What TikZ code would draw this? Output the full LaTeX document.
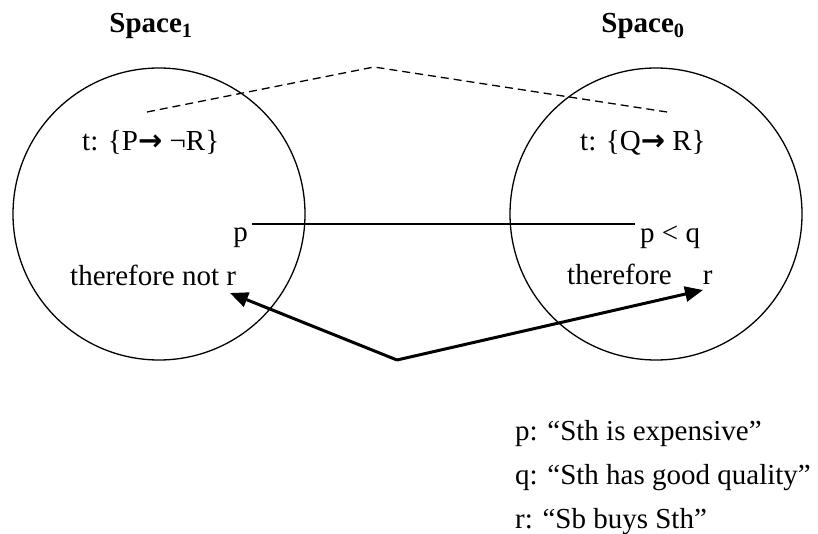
\documentclass[tikz,border=0pt]{standalone}
\usepackage{fontspec}
\setmainfont{Liberation Serif}
\newfontfamily\symfont{DejaVu Sans}
\usetikzlibrary{arrows.meta}
\begin{document}
\begin{tikzpicture}[x=1pt,y=-1pt,
  txt/.style={inner sep=0pt, font=\fontsize{29}{34}\selectfont},
  ttl/.style={inner sep=0pt, font=\fontsize{29}{34}\selectfont\bfseries},
  space/.style={circle, draw, line width=1.3pt, minimum size=292pt, inner sep=0pt},
  dashline/.style={line width=1.3pt, dash pattern=on 8pt off 5pt},
  thinline/.style={line width=1.5pt},
  bigarrow/.style={line width=3pt, -{Triangle[length=18pt,width=15pt]}}
]
\useasboundingbox (0,0) rectangle (818,534);
% titles
\node[ttl, anchor=base] (s1) at (151,33) {Space\textsubscript{1}};
\node[ttl, anchor=base] (s0) at (643,33) {Space\textsubscript{0}};
% circles
\node[space] (c1) at (159,214) {};
\node[space] (c0) at (656,214) {};
% texts in spaces
\node[txt, anchor=base west] (t1) at (82,151) {t: \{P{\symfont\bfseries →} ¬R\}};
\node[txt, anchor=base west] (t0) at (580,151) {t: \{Q{\symfont\bfseries →} R\}};
\node[txt, anchor=base east] (p1) at (248,242) {p};
\node[txt, anchor=base west] (pq) at (640,243) {p < q};
\node[txt, anchor=base west] (tr1) at (70,286) {therefore not r};
\node[txt, anchor=base west] (tr0) at (567,284) {therefore\hspace{31pt}r};
% legend
\node[txt, anchor=base west] (lp) at (515,440) {p: “Sth is expensive”};
\node[txt, anchor=base west] (lq) at (515,484) {q: “Sth has good quality”};
\node[txt, anchor=base west] (lr) at (515,528) {r: “Sb buys Sth”};
% connector coordinates
\coordinate (l1) at (252,224);
\coordinate (l2) at (635,224);
\coordinate (d1) at (147,112);
\coordinate (dp) at (374,67);
\coordinate (d2) at (667,112);
\coordinate (ap) at (397,360);
\coordinate (tipL) at (230,293);
\coordinate (tipR) at (703,290);
% connectors
\draw[thinline] (l1) -- (l2);
\draw[dashline] (d1) -- (dp) -- (d2);
\draw[bigarrow] (ap) -- (tipL);
\draw[bigarrow] (ap) -- (tipR);
\end{tikzpicture}
\end{document}
